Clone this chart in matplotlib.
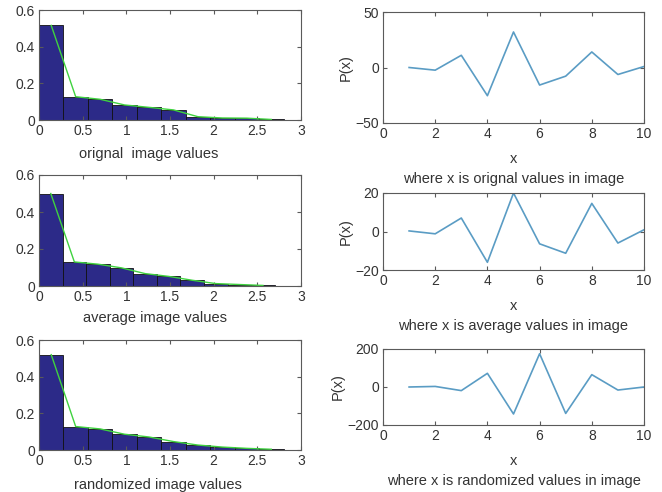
import numpy as np
import matplotlib
matplotlib.use("Agg")
import matplotlib.pyplot as plt

plt.rcParams["font.family"] = ["Liberation Sans", "DejaVu Sans"]
plt.rcParams["font.size"] = 10

# histogram data (bin edges + normalised heights)
edges_orig = [0, 0.28, 0.56, 0.84, 1.12, 1.40, 1.68, 1.96, 2.24, 2.52, 2.80]
hist_orig = [0.516, 0.127, 0.113, 0.082, 0.069, 0.055, 0.018, 0.011, 0.010, 0.003]

edges_avg = [0, 0.27, 0.54, 0.81, 1.08, 1.35, 1.62, 1.89, 2.16, 2.43, 2.70]
hist_avg = [0.500, 0.130, 0.118, 0.098, 0.067, 0.052, 0.031, 0.013, 0.008, 0.003]

edges_rand = [0, 0.28, 0.56, 0.84, 1.12, 1.40, 1.68, 1.96, 2.24, 2.52, 2.80]
hist_rand = [0.520, 0.128, 0.115, 0.086, 0.071, 0.046, 0.027, 0.016, 0.009, 0.004]

# P(x) series
x_vals = [1, 2, 3, 4, 5, 6, 7, 8, 9, 10]
p_orig = [0, -2.4, 11, -25.4, 32, -15.8, -7.8, 14, -6.3, 0.9]
p_avg = [0.3, -1.2, 7, -16, 20, -6.4, -11.3, 14.6, -6, 0.9]
p_rand = [0, 3, -19, 72, -142, 175, -139, 65, -16, 0]

hist_labels = ["orignal  image values", "average image values", "randomized image values"]
line_labels = ["where x is orignal values in image",
               "where x is average values in image",
               "where x is randomized values in image"]

BAR_C = "#2c2a88"
GREEN = "#3fd23f"
LINE_C = "#5a9cc4"
AX_C = "#5a5a5a"
TXT_C = "#333333"

W, H = 662, 492
fig = plt.figure(figsize=(W / 100, H / 100), dpi=100)


def px_axes(x0, y0, x1, y1):
    return fig.add_axes([x0 / W, 1 - y1 / H, (x1 - x0) / W, (y1 - y0) / H])


def style(ax):
    for s in ax.spines.values():
        s.set_color(AX_C)
        s.set_linewidth(0.8)
    ax.tick_params(direction="in", top=True, right=True, length=3,
                   color=AX_C, labelcolor=TXT_C, labelsize=10, pad=3)


left_boxes = [(39, 10, 301, 120), (39, 175, 301, 286), (39, 340, 301, 450)]
right_boxes = [(383, 12, 644, 123), (383, 193, 644, 270), (383, 349, 644, 425)]
# where the x labels of the histograms sit (axes fractions), as in the picture
left_label_pos = [(0.42, -0.245), (0.443, -0.225), (0.455, -0.25)]

hists = [(edges_orig, hist_orig), (edges_avg, hist_avg), (edges_rand, hist_rand)]
for (edges, h), box, lab, lpos in zip(hists, left_boxes, hist_labels, left_label_pos):
    ax = px_axes(*box)
    e = np.array(edges)
    ax.bar(e[:-1], h, width=np.diff(e), align="edge", color=BAR_C,
           edgecolor="#111111", linewidth=0.6)
    centers = (e[:-1] + e[1:]) / 2
    ax.plot(centers, h, color=GREEN, lw=1.0)
    ax.set_xlim(0, 3)
    ax.set_ylim(0, 0.6)
    ax.set_xticks([0, 0.5, 1, 1.5, 2, 2.5, 3])
    ax.set_xticklabels(["0", "0.5", "1", "1.5", "2", "2.5", "3"])
    ax.set_yticks([0, 0.2, 0.4, 0.6])
    ax.set_yticklabels(["0", "0.2", "0.4", "0.6"])
    ax.set_xlabel(lab, color=TXT_C, fontsize=10.5)
    ax.xaxis.set_label_coords(*lpos)
    style(ax)

series = [(p_orig, 50), (p_avg, 20), (p_rand, 200)]
for (p, lim), box, lab in zip(series, right_boxes, line_labels):
    ax = px_axes(*box)
    ax.plot(x_vals, p, color=LINE_C, lw=1.2)
    ax.set_xlim(0, 10)
    ax.set_ylim(-lim, lim)
    ax.set_xticks([0, 2, 4, 6, 8, 10])
    ax.set_yticks([-lim, 0, lim])
    ax.set_ylabel("P(x)", color=TXT_C, fontsize=10.5, labelpad=2)
    ax.set_xlabel("x\n" + lab, color=TXT_C, fontsize=10.5, labelpad=8,
                  linespacing=1.5)
    style(ax)

fig.savefig("out.png", dpi=100)
